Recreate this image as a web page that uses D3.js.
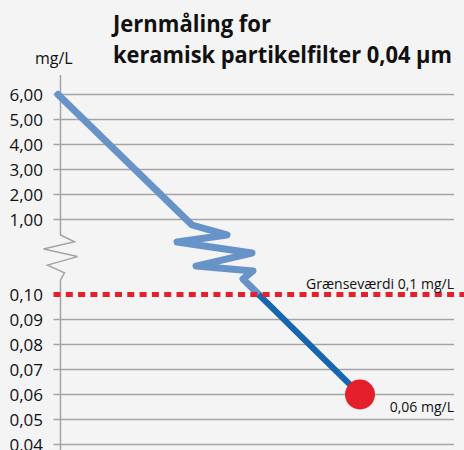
<!doctype html>
<html>
<head>
    <meta charset="UTF-8">
    <title>Jernmåling</title>
    <script src="https://d3js.org/d3.v7.min.js"></script>
    <style>
        body{margin:0;background:#f4f4f4;}
        text{font-family:"Open Sans","Noto Sans",sans-serif;fill:#111;}
    </style>
</head>
<body>
<script>
    // tick values on the two parts of the broken axis
    var upperTicks = [1, 2, 3, 4, 5, 6];
    var lowerTicks = [0.04, 0.05, 0.06, 0.07, 0.08, 0.09, 0.10];
    var limitValue = 0.10;

    // measurement line: start in the upper part, end in the lower part
    var upperSeries = [{t: 0, v: 6.00}, {t: 33.5, v: 0.78}];
    var lowerSeries = [{t: 46.25, v: 0.1062}, {t: 75.5, v: 0.06}];

    // zigzag of the line through the break (t, fraction through the break)
    var lineBreak = [[33.5, 0], [42.25, 0.185], [29.75, 0.315], [48.5, 0.52], [34.5, 0.76], [48.75, 0.85], [46.25, 1]];
    // zigzag on the axis (offset, fraction through the break)
    var axisBreak = [[0, 0], [14, 0.15], [-17, 0.31], [17, 0.48], [-13, 0.67], [4, 0.84], [0, 1]];

    var w = 464, h = 450;
    var axisX = 60.5, gridRight = 454;

    var svg = d3.select("body").append("svg").attr("width", w).attr("height", h);

    var x = d3.scaleLinear().domain([0, 100]).range([58, 458]);
    var yUp = d3.scaleLinear().domain([1, 6]).range([219.5, 94.5]);
    var yLow = d3.scaleLinear().domain([0.04, 0.10]).range([444.5, 294.5]);
    var yBreak = d3.scaleLinear().domain([0, 1]).range([yUp(upperSeries[1].v), yLow(lowerSeries[0].v)]);
    var yAxisBreak = d3.scaleLinear().domain([0, 1]).range([235, 280]);

    var fmt = function(d){ return d3.format(".2f")(d).replace(".", ","); };

    // grid
    svg.selectAll("line.gu").data(upperTicks).enter().append("line")
        .attr("x1", axisX - 7).attr("x2", gridRight)
        .attr("y1", d => yUp(d)).attr("y2", d => yUp(d))
        .attr("stroke", "#a4a4a4").attr("stroke-width", 1.5);
    svg.selectAll("line.gl").data(lowerTicks.filter(d => d < limitValue)).enter().append("line")
        .attr("x1", axisX - 7).attr("x2", gridRight)
        .attr("y1", d => yLow(d)).attr("y2", d => yLow(d))
        .attr("stroke", "#a4a4a4").attr("stroke-width", 1.5);

    // tick labels
    svg.selectAll("text.tu").data(upperTicks).enter().append("text")
        .attr("x", 43).attr("y", d => yUp(d) + 6)
        .attr("text-anchor", "end").attr("font-size", 17)
        .text(fmt);
    svg.selectAll("text.tl").data(lowerTicks).enter().append("text")
        .attr("x", 43).attr("y", d => yLow(d) + 6)
        .attr("text-anchor", "end").attr("font-size", 17)
        .text(fmt);

    // axis with break
    var axisPts = [[axisX, 75]]
        .concat(axisBreak.map(d => [axisX + d[0], yAxisBreak(d[1])]))
        .concat([[axisX, h]]);
    svg.append("path").attr("d", d3.line()(axisPts))
        .attr("fill", "none").attr("stroke", "#a4a4a4").attr("stroke-width", 1.5);

    svg.append("text").attr("x", 35).attr("y", 64).attr("font-size", 16).text("mg/L");

    // title
    svg.append("text").attr("x", 113).attr("y", 32).attr("font-size", 23).attr("font-weight", "bold")
        .attr("textLength", 158).attr("lengthAdjust", "spacingAndGlyphs").text("Jernmåling for");
    svg.append("text").attr("x", 113).attr("y", 63).attr("font-size", 23).attr("font-weight", "bold")
        .attr("textLength", 339).attr("lengthAdjust", "spacingAndGlyphs").text("keramisk partikelfilter 0,04 µm");

    // measurement line (light part above limit)
    var lowAt = function(v){
        var a = lowerSeries[0], b = lowerSeries[1];
        return a.t + (b.t - a.t) * (v - a.v) / (b.v - a.v);
    };
    var lightPts = upperSeries.map(d => [x(d.t), yUp(d.v)])
        .concat(lineBreak.slice(1).map(d => [x(d[0]), yBreak(d[1])]))
        .concat([[x(lowAt(limitValue)), yLow(limitValue)]]);
    svg.append("path").attr("d", d3.line()(lightPts))
        .attr("fill", "none").attr("stroke", "#6893c9").attr("stroke-width", 7)
        .attr("stroke-linejoin", "round").attr("stroke-linecap", "round");

    var darkPts = [[x(lowAt(limitValue)), yLow(limitValue)], [x(lowerSeries[1].t), yLow(lowerSeries[1].v)]];
    svg.append("path").attr("d", d3.line()(darkPts))
        .attr("fill", "none").attr("stroke", "#1866ad").attr("stroke-width", 6);

    // limit line
    svg.append("line").attr("x1", axisX - 7).attr("x2", w)
        .attr("y1", yLow(limitValue)).attr("y2", yLow(limitValue))
        .attr("stroke", "#e5202b").attr("stroke-width", 5).attr("stroke-dasharray", "7,5.3");
    svg.append("text").attr("x", gridRight).attr("y", yLow(limitValue) - 6)
        .attr("text-anchor", "end").attr("font-size", 14).text("Grænseværdi 0,1 mg/L");

    // end point
    var last = lowerSeries[lowerSeries.length - 1];
    svg.append("circle").attr("cx", x(last.t)).attr("cy", yLow(last.v)).attr("r", 15)
        .attr("fill", "#e5202b");
    svg.append("text").attr("x", gridRight).attr("y", yLow(last.v) + 17)
        .attr("text-anchor", "end").attr("font-size", 14).text("0,06 mg/L");
</script>
</body>
</html>
